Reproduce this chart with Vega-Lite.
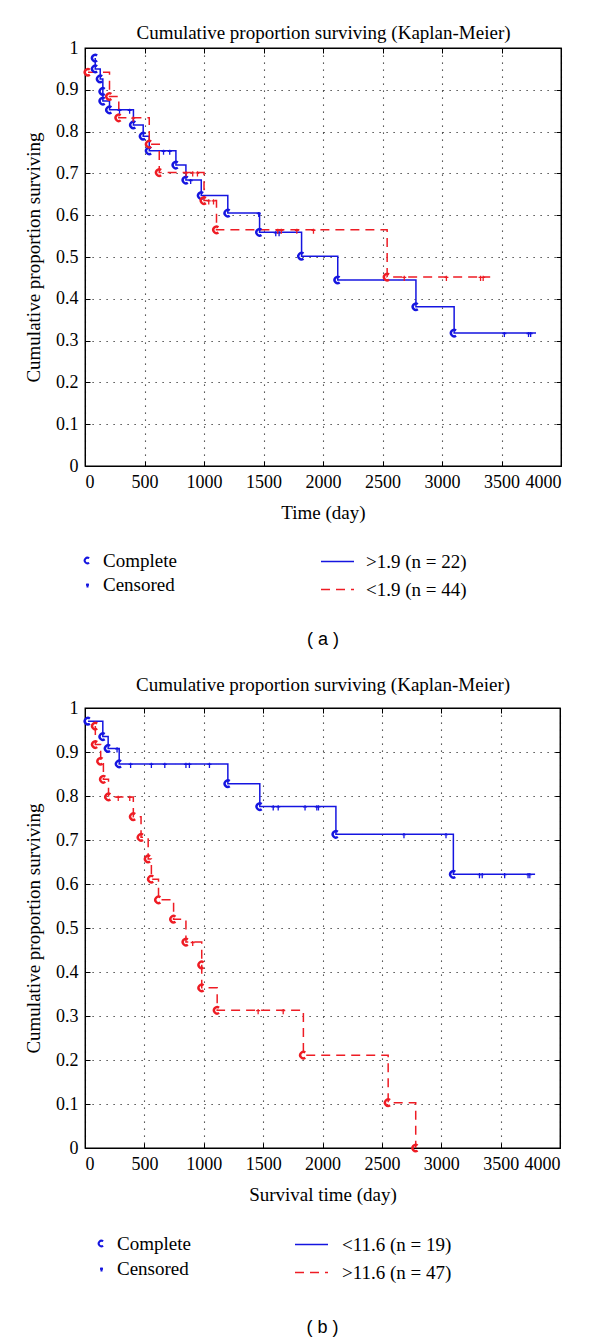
{
  "$schema": "https://vega.github.io/schema/vega-lite/v6.json",
  "background": "white",
  "padding": {"left": 23, "top": 22, "right": 39, "bottom": 5},
  "spacing": 24,
  "config": {
    "font": "Liberation Serif",
    "view": {"stroke": "black", "strokeWidth": 1.3},
    "axis": {
      "labelFont": "Liberation Serif", "labelFontSize": 18, "labelColor": "black",
      "titleFont": "Liberation Serif", "titleFontSize": 19, "titleFontWeight": "normal", "titleColor": "black",
      "domainColor": "black", "tickColor": "black", "tickSize": -5,
      "gridColor": "black", "gridDash": [1.2, 5.8], "gridOpacity": 0.85, "gridWidth": 1.1
    },
    "legend": {"labelFont": "Liberation Serif", "labelFontSize": 19, "labelColor": "black", "labelLimit": 400},
    "title": {"font": "Liberation Sans", "fontSize": 18, "fontWeight": "normal", "color": "black"}
  },
  "datasets": {
    "panelA": [
      {"group": ">1.9 (n = 22)", "t": 86, "s": 0.976, "kind": "Complete"},
      {"group": ">1.9 (n = 22)", "t": 86, "s": 0.950, "kind": "Complete"},
      {"group": ">1.9 (n = 22)", "t": 128, "s": 0.926, "kind": "Complete"},
      {"group": ">1.9 (n = 22)", "t": 150, "s": 0.896, "kind": "Complete"},
      {"group": ">1.9 (n = 22)", "t": 150, "s": 0.873, "kind": "Complete"},
      {"group": ">1.9 (n = 22)", "t": 206, "s": 0.852, "kind": "Complete"},
      {"group": ">1.9 (n = 22)", "t": 290, "s": 0.852, "kind": "Censored"},
      {"group": ">1.9 (n = 22)", "t": 375, "s": 0.852, "kind": "Censored"},
      {"group": ">1.9 (n = 22)", "t": 407, "s": 0.816, "kind": "Complete"},
      {"group": ">1.9 (n = 22)", "t": 489, "s": 0.789, "kind": "Complete"},
      {"group": ">1.9 (n = 22)", "t": 540, "s": 0.754, "kind": "Complete"},
      {"group": ">1.9 (n = 22)", "t": 660, "s": 0.754, "kind": "Censored"},
      {"group": ">1.9 (n = 22)", "t": 712, "s": 0.754, "kind": "Censored"},
      {"group": ">1.9 (n = 22)", "t": 764, "s": 0.720, "kind": "Complete"},
      {"group": ">1.9 (n = 22)", "t": 848, "s": 0.684, "kind": "Complete"},
      {"group": ">1.9 (n = 22)", "t": 888, "s": 0.684, "kind": "Censored"},
      {"group": ">1.9 (n = 22)", "t": 977, "s": 0.647, "kind": "Complete"},
      {"group": ">1.9 (n = 22)", "t": 1200, "s": 0.605, "kind": "Complete"},
      {"group": ">1.9 (n = 22)", "t": 1460, "s": 0.605, "kind": "Censored"},
      {"group": ">1.9 (n = 22)", "t": 1467, "s": 0.559, "kind": "Complete"},
      {"group": ">1.9 (n = 22)", "t": 1603, "s": 0.559, "kind": "Censored"},
      {"group": ">1.9 (n = 22)", "t": 1631, "s": 0.559, "kind": "Censored"},
      {"group": ">1.9 (n = 22)", "t": 1820, "s": 0.502, "kind": "Complete"},
      {"group": ">1.9 (n = 22)", "t": 2124, "s": 0.445, "kind": "Complete"},
      {"group": ">1.9 (n = 22)", "t": 2781, "s": 0.381, "kind": "Complete"},
      {"group": ">1.9 (n = 22)", "t": 3102, "s": 0.318, "kind": "Complete"},
      {"group": ">1.9 (n = 22)", "t": 3524, "s": 0.318, "kind": "Censored"},
      {"group": ">1.9 (n = 22)", "t": 3727, "s": 0.318, "kind": "Censored"},
      {"group": ">1.9 (n = 22)", "t": 3745, "s": 0.318, "kind": "Censored"},
      {"group": ">1.9 (n = 22)", "t": 3790, "s": 0.318, "kind": "End"},
      {"group": "<1.9 (n = 44)", "t": 25, "s": 0.942, "kind": "Complete"},
      {"group": "<1.9 (n = 44)", "t": 206, "s": 0.884, "kind": "Complete"},
      {"group": "<1.9 (n = 44)", "t": 284, "s": 0.833, "kind": "Complete"},
      {"group": "<1.9 (n = 44)", "t": 405, "s": 0.833, "kind": "Censored"},
      {"group": "<1.9 (n = 44)", "t": 540, "s": 0.770, "kind": "Complete"},
      {"group": "<1.9 (n = 44)", "t": 624, "s": 0.702, "kind": "Complete"},
      {"group": "<1.9 (n = 44)", "t": 850, "s": 0.702, "kind": "Censored"},
      {"group": "<1.9 (n = 44)", "t": 905, "s": 0.702, "kind": "Censored"},
      {"group": "<1.9 (n = 44)", "t": 945, "s": 0.702, "kind": "Censored"},
      {"group": "<1.9 (n = 44)", "t": 1000, "s": 0.635, "kind": "Complete"},
      {"group": "<1.9 (n = 44)", "t": 1040, "s": 0.635, "kind": "Censored"},
      {"group": "<1.9 (n = 44)", "t": 1080, "s": 0.635, "kind": "Censored"},
      {"group": "<1.9 (n = 44)", "t": 1105, "s": 0.565, "kind": "Complete"},
      {"group": "<1.9 (n = 44)", "t": 1620, "s": 0.565, "kind": "Censored"},
      {"group": "<1.9 (n = 44)", "t": 1650, "s": 0.565, "kind": "Censored"},
      {"group": "<1.9 (n = 44)", "t": 1780, "s": 0.565, "kind": "Censored"},
      {"group": "<1.9 (n = 44)", "t": 1920, "s": 0.565, "kind": "Censored"},
      {"group": "<1.9 (n = 44)", "t": 2539, "s": 0.452, "kind": "Complete"},
      {"group": "<1.9 (n = 44)", "t": 2683, "s": 0.452, "kind": "Censored"},
      {"group": "<1.9 (n = 44)", "t": 3037, "s": 0.452, "kind": "Censored"},
      {"group": "<1.9 (n = 44)", "t": 3324, "s": 0.452, "kind": "Censored"},
      {"group": "<1.9 (n = 44)", "t": 3346, "s": 0.452, "kind": "Censored"},
      {"group": "<1.9 (n = 44)", "t": 3405, "s": 0.452, "kind": "End"}
    ],
    "panelB": [
      {"group": "<11.6 (n = 19)", "t": 25, "s": 0.970, "kind": "Complete"},
      {"group": "<11.6 (n = 19)", "t": 150, "s": 0.935, "kind": "Complete"},
      {"group": "<11.6 (n = 19)", "t": 195, "s": 0.908, "kind": "Complete"},
      {"group": "<11.6 (n = 19)", "t": 270, "s": 0.908, "kind": "Censored"},
      {"group": "<11.6 (n = 19)", "t": 288, "s": 0.873, "kind": "Complete"},
      {"group": "<11.6 (n = 19)", "t": 384, "s": 0.873, "kind": "Censored"},
      {"group": "<11.6 (n = 19)", "t": 559, "s": 0.873, "kind": "Censored"},
      {"group": "<11.6 (n = 19)", "t": 672, "s": 0.873, "kind": "Censored"},
      {"group": "<11.6 (n = 19)", "t": 850, "s": 0.873, "kind": "Censored"},
      {"group": "<11.6 (n = 19)", "t": 879, "s": 0.873, "kind": "Censored"},
      {"group": "<11.6 (n = 19)", "t": 1048, "s": 0.873, "kind": "Censored"},
      {"group": "<11.6 (n = 19)", "t": 1203, "s": 0.828, "kind": "Complete"},
      {"group": "<11.6 (n = 19)", "t": 1472, "s": 0.776, "kind": "Complete"},
      {"group": "<11.6 (n = 19)", "t": 1585, "s": 0.776, "kind": "Censored"},
      {"group": "<11.6 (n = 19)", "t": 1627, "s": 0.776, "kind": "Censored"},
      {"group": "<11.6 (n = 19)", "t": 1853, "s": 0.776, "kind": "Censored"},
      {"group": "<11.6 (n = 19)", "t": 1952, "s": 0.776, "kind": "Censored"},
      {"group": "<11.6 (n = 19)", "t": 1966, "s": 0.776, "kind": "Censored"},
      {"group": "<11.6 (n = 19)", "t": 2113, "s": 0.713, "kind": "Complete"},
      {"group": "<11.6 (n = 19)", "t": 2686, "s": 0.713, "kind": "Censored"},
      {"group": "<11.6 (n = 19)", "t": 3040, "s": 0.713, "kind": "Censored"},
      {"group": "<11.6 (n = 19)", "t": 3102, "s": 0.622, "kind": "Complete"},
      {"group": "<11.6 (n = 19)", "t": 3322, "s": 0.622, "kind": "Censored"},
      {"group": "<11.6 (n = 19)", "t": 3345, "s": 0.622, "kind": "Censored"},
      {"group": "<11.6 (n = 19)", "t": 3534, "s": 0.622, "kind": "Censored"},
      {"group": "<11.6 (n = 19)", "t": 3731, "s": 0.622, "kind": "Censored"},
      {"group": "<11.6 (n = 19)", "t": 3746, "s": 0.622, "kind": "Censored"},
      {"group": "<11.6 (n = 19)", "t": 3790, "s": 0.622, "kind": "End"},
      {"group": ">11.6 (n = 47)", "t": 87, "s": 0.959, "kind": "Complete"},
      {"group": ">11.6 (n = 47)", "t": 87, "s": 0.917, "kind": "Complete"},
      {"group": ">11.6 (n = 47)", "t": 132, "s": 0.879, "kind": "Complete"},
      {"group": ">11.6 (n = 47)", "t": 155, "s": 0.838, "kind": "Complete"},
      {"group": ">11.6 (n = 47)", "t": 198, "s": 0.798, "kind": "Complete"},
      {"group": ">11.6 (n = 47)", "t": 280, "s": 0.798, "kind": "Censored"},
      {"group": ">11.6 (n = 47)", "t": 377, "s": 0.798, "kind": "Censored"},
      {"group": ">11.6 (n = 47)", "t": 407, "s": 0.753, "kind": "Complete"},
      {"group": ">11.6 (n = 47)", "t": 472, "s": 0.706, "kind": "Complete"},
      {"group": ">11.6 (n = 47)", "t": 532, "s": 0.657, "kind": "Complete"},
      {"group": ">11.6 (n = 47)", "t": 559, "s": 0.611, "kind": "Complete"},
      {"group": ">11.6 (n = 47)", "t": 619, "s": 0.564, "kind": "Complete"},
      {"group": ">11.6 (n = 47)", "t": 746, "s": 0.520, "kind": "Complete"},
      {"group": ">11.6 (n = 47)", "t": 850, "s": 0.468, "kind": "Complete"},
      {"group": ">11.6 (n = 47)", "t": 907, "s": 0.468, "kind": "Censored"},
      {"group": ">11.6 (n = 47)", "t": 983, "s": 0.416, "kind": "Complete"},
      {"group": ">11.6 (n = 47)", "t": 983, "s": 0.364, "kind": "Complete"},
      {"group": ">11.6 (n = 47)", "t": 1113, "s": 0.313, "kind": "Complete"},
      {"group": ">11.6 (n = 47)", "t": 1458, "s": 0.313, "kind": "Censored"},
      {"group": ">11.6 (n = 47)", "t": 1669, "s": 0.313, "kind": "Censored"},
      {"group": ">11.6 (n = 47)", "t": 1839, "s": 0.211, "kind": "Complete"},
      {"group": ">11.6 (n = 47)", "t": 2553, "s": 0.103, "kind": "Complete"},
      {"group": ">11.6 (n = 47)", "t": 2785, "s": 0.0, "kind": "Complete"}
    ]
  },
  "resolve": {"scale": {"color": "independent", "strokeDash": "independent", "shape": "independent", "stroke": "independent"}},
  "vconcat": [
    {
      "title": {"text": "( a )", "orient": "bottom", "offset": 31},
      "width": 476,
      "height": 418,
      "data": {"name": "panelA"},
      "resolve": {"axis": {"x": "independent", "y": "independent"}},
      "layer": [
        {
          "mark": {"type": "line", "interpolate": "step-after", "strokeWidth": 1.5},
          "encoding": {
            "x": {"field": "t", "type": "quantitative", "scale": {"domain": [0, 4000], "nice": false},
                  "axis": {"title": "Time (day)", "values": [0, 500, 1000, 1500, 2000, 2500, 3000, 3500, 4000], "format": "d", "labelPadding": 12, "titlePadding": 12, "grid": true}},
            "y": {"field": "s", "type": "quantitative", "scale": {"domain": [0, 1], "nice": false},
                  "axis": {"title": "Cumulative proportion surviving", "values": [0, 0.1, 0.2, 0.3, 0.4, 0.5, 0.6, 0.7, 0.8, 0.9, 1], "format": "~g", "grid": true, "labelPadding": 12, "titlePadding": 12}},
            "color": {"field": "group", "type": "nominal",
                      "scale": {"domain": [">1.9 (n = 22)", "<1.9 (n = 44)"], "range": ["#1515e0", "#ee1c24"]},
                      "legend": {"title": null, "orient": "none", "legendX": 235, "legendY": 496, "symbolType": "stroke", "symbolSize": 1089, "symbolStrokeWidth": 1.6, "labelOffset": 11, "rowPadding": -10, "padding": 0}},
            "strokeDash": {"field": "group", "type": "nominal",
                      "scale": {"domain": [">1.9 (n = 22)", "<1.9 (n = 44)"], "range": [[1, 0], [9, 6]]},
                      "legend": {"title": null, "orient": "none", "legendX": 235, "legendY": 496, "symbolType": "stroke", "symbolSize": 1089, "symbolStrokeWidth": 1.6, "labelOffset": 11, "rowPadding": -10, "padding": 0}}
          }
        },
        {
          "mark": {"type": "point", "filled": false, "opacity": 1, "strokeWidth": 2.4, "size": 48},
          "transform": [{"filter": "datum.kind == 'Complete'"}],
          "encoding": {
            "x": {"field": "t", "type": "quantitative", "scale": {"domain": [0, 4000], "nice": false},
                  "axis": {"orient": "top", "title": "Cumulative proportion surviving (Kaplan-Meier)", "values": [0, 500, 1000, 1500, 2000, 2500, 3000, 3500, 4000], "labels": false, "grid": false, "titlePadding": 5}},
            "y": {"field": "s", "type": "quantitative", "scale": {"domain": [0, 1], "nice": false},
                  "axis": {"orient": "right", "title": null, "values": [0, 0.1, 0.2, 0.3, 0.4, 0.5, 0.6, 0.7, 0.8, 0.9, 1], "labels": false, "grid": false}},
            "shape": {"field": "kind", "type": "nominal",
                      "scale": {"domain": ["Complete", "Censored"], "range": ["M0.55,-0.75A0.93,0.93 0 1,0 0.55,0.75", "M0,-0.3L0,1M-0.5,0.1L0.5,0.1"]},
                      "legend": {"title": null, "orient": "none", "legendX": -7, "legendY": 503, "symbolStrokeColor": "#1515e0", "symbolFillColor": "transparent", "symbolSize": 36, "symbolStrokeWidth": 2, "labelOffset": 6, "rowPadding": 4, "padding": 0}},
            "stroke": {"field": "group", "type": "nominal",
                      "scale": {"domain": [">1.9 (n = 22)", "<1.9 (n = 44)"], "range": ["#1515e0", "#ee1c24"]}, "legend": null}
          }
        },
        {
          "mark": {"type": "point", "filled": false, "opacity": 1, "strokeWidth": 1.3, "size": 64},
          "transform": [{"filter": "datum.kind == 'Censored'"}],
          "encoding": {
            "x": {"field": "t", "type": "quantitative", "scale": {"domain": [0, 4000], "nice": false}, "axis": null},
            "y": {"field": "s", "type": "quantitative", "scale": {"domain": [0, 1], "nice": false}, "axis": null},
            "shape": {"field": "kind", "type": "nominal",
                      "scale": {"domain": ["Complete", "Censored"], "range": ["M0.55,-0.75A0.93,0.93 0 1,0 0.55,0.75", "M0,-0.3L0,1M-0.5,0.1L0.5,0.1"]},
                      "legend": {"title": null, "orient": "none", "legendX": -7, "legendY": 503, "symbolStrokeColor": "#1515e0", "symbolFillColor": "transparent", "symbolSize": 36, "symbolStrokeWidth": 2, "labelOffset": 6, "rowPadding": 4, "padding": 0}},
            "stroke": {"field": "group", "type": "nominal",
                      "scale": {"domain": [">1.9 (n = 22)", "<1.9 (n = 44)"], "range": ["#1515e0", "#ee1c24"]}, "legend": null}
          }
        }
      ]
    },
    {
      "title": {"text": "( b )", "orient": "bottom", "offset": 36},
      "width": 475,
      "height": 440,
      "data": {"name": "panelB"},
      "resolve": {"axis": {"x": "independent", "y": "independent"}},
      "layer": [
        {
          "mark": {"type": "line", "interpolate": "step-after", "strokeWidth": 1.5},
          "encoding": {
            "x": {"field": "t", "type": "quantitative", "scale": {"domain": [0, 4000], "nice": false},
                  "axis": {"title": "Survival time (day)", "values": [0, 500, 1000, 1500, 2000, 2500, 3000, 3500, 4000], "format": "d", "labelPadding": 12, "titlePadding": 12, "grid": true}},
            "y": {"field": "s", "type": "quantitative", "scale": {"domain": [0, 1], "nice": false},
                  "axis": {"title": "Cumulative proportion surviving", "values": [0, 0.1, 0.2, 0.3, 0.4, 0.5, 0.6, 0.7, 0.8, 0.9, 1], "format": "~g", "grid": true, "labelPadding": 12, "titlePadding": 12}},
            "color": {"field": "group", "type": "nominal",
                      "scale": {"domain": ["<11.6 (n = 19)", ">11.6 (n = 47)"], "range": ["#1515e0", "#ee1c24"]},
                      "legend": {"title": null, "orient": "none", "legendX": 209, "legendY": 519, "symbolType": "stroke", "symbolSize": 1089, "symbolStrokeWidth": 1.6, "labelOffset": 13, "rowPadding": -8, "padding": 0}},
            "strokeDash": {"field": "group", "type": "nominal",
                      "scale": {"domain": ["<11.6 (n = 19)", ">11.6 (n = 47)"], "range": [[1, 0], [9, 6]]},
                      "legend": {"title": null, "orient": "none", "legendX": 209, "legendY": 519, "symbolType": "stroke", "symbolSize": 1089, "symbolStrokeWidth": 1.6, "labelOffset": 13, "rowPadding": -8, "padding": 0}}
          }
        },
        {
          "mark": {"type": "point", "filled": false, "opacity": 1, "strokeWidth": 2.4, "size": 48},
          "transform": [{"filter": "datum.kind == 'Complete'"}],
          "encoding": {
            "x": {"field": "t", "type": "quantitative", "scale": {"domain": [0, 4000], "nice": false},
                  "axis": {"orient": "top", "title": "Cumulative proportion surviving (Kaplan-Meier)", "values": [0, 500, 1000, 1500, 2000, 2500, 3000, 3500, 4000], "labels": false, "grid": false, "titlePadding": 13}},
            "y": {"field": "s", "type": "quantitative", "scale": {"domain": [0, 1], "nice": false},
                  "axis": {"orient": "right", "title": null, "values": [0, 0.1, 0.2, 0.3, 0.4, 0.5, 0.6, 0.7, 0.8, 0.9, 1], "labels": false, "grid": false}},
            "shape": {"field": "kind", "type": "nominal",
                      "scale": {"domain": ["Complete", "Censored"], "range": ["M0.55,-0.75A0.93,0.93 0 1,0 0.55,0.75", "M0,-0.3L0,1M-0.5,0.1L0.5,0.1"]},
                      "legend": {"title": null, "orient": "none", "legendX": 7, "legendY": 526, "symbolStrokeColor": "#1515e0", "symbolFillColor": "transparent", "symbolSize": 36, "symbolStrokeWidth": 2, "labelOffset": 6, "rowPadding": 5, "padding": 0}},
            "stroke": {"field": "group", "type": "nominal",
                      "scale": {"domain": ["<11.6 (n = 19)", ">11.6 (n = 47)"], "range": ["#1515e0", "#ee1c24"]}, "legend": null}
          }
        },
        {
          "mark": {"type": "point", "filled": false, "opacity": 1, "strokeWidth": 1.3, "size": 64},
          "transform": [{"filter": "datum.kind == 'Censored'"}],
          "encoding": {
            "x": {"field": "t", "type": "quantitative", "scale": {"domain": [0, 4000], "nice": false}, "axis": null},
            "y": {"field": "s", "type": "quantitative", "scale": {"domain": [0, 1], "nice": false}, "axis": null},
            "shape": {"field": "kind", "type": "nominal",
                      "scale": {"domain": ["Complete", "Censored"], "range": ["M0.55,-0.75A0.93,0.93 0 1,0 0.55,0.75", "M0,-0.3L0,1M-0.5,0.1L0.5,0.1"]},
                      "legend": {"title": null, "orient": "none", "legendX": 7, "legendY": 526, "symbolStrokeColor": "#1515e0", "symbolFillColor": "transparent", "symbolSize": 36, "symbolStrokeWidth": 2, "labelOffset": 6, "rowPadding": 5, "padding": 0}},
            "stroke": {"field": "group", "type": "nominal",
                      "scale": {"domain": ["<11.6 (n = 19)", ">11.6 (n = 47)"], "range": ["#1515e0", "#ee1c24"]}, "legend": null}
          }
        }
      ]
    }
  ]
}
